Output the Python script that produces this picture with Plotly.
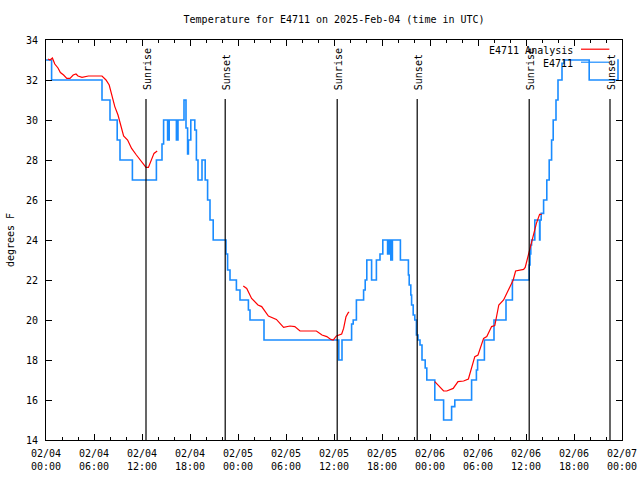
import plotly.graph_objects as go

# ---- data (hours since 2025-02-04 00:00 UTC) ----
obs_hours = [0.0, 0.7, 7.0, 8.0, 8.9, 9.25, 10.8, 13.8, 14.5, 14.7, 15.2, 15.4, 16.3, 16.5,
             17.25, 17.5, 17.7, 17.8, 18.1, 18.6, 18.8, 19.0, 19.5, 19.9, 20.2, 20.5, 20.9,
             22.5, 22.7, 23.0, 23.8, 24.25, 25.3, 25.5, 27.25, 36.6, 37.0, 38.2, 38.4, 38.8,
             39.7, 39.9, 40.1, 40.7, 41.3, 41.75, 42.1, 42.7, 42.9, 43.1, 43.3, 44.3, 45.3,
             45.4, 45.6, 45.7, 45.9, 46.1, 46.3, 46.5, 46.75, 47.0, 47.4, 47.6, 48.6, 49.7,
             50.7, 51.1, 53.2, 53.8, 53.95, 54.8, 56.0, 57.5, 58.3, 60.4, 60.5, 60.6, 60.7,
             61.1, 61.7, 61.75, 61.9, 62.2, 62.6, 62.9, 63.2, 63.4, 63.75, 64.0, 64.5, 64.75,
             67.9, 71.5, 71.6]
obs_temps = [33, 32, 31, 30, 29, 28, 27, 28, 28.8, 30, 29, 30, 29, 30,
             31, 29.6, 28.3, 29, 30, 29.5, 28, 27, 28, 27, 26, 25, 24,
             23.3, 22.5, 22, 21.5, 21, 20.5, 20, 19, 18, 19, 19.8, 20, 21,
             21.5, 22, 23, 22, 23, 23.3, 24, 23.3, 24, 23, 24, 23, 22.25,
             21.75, 21.25, 20.75, 20.25, 20, 19.25, 19, 18.75, 18, 17.6, 17, 16, 15,
             15.67, 16, 17, 17.5, 18, 19, 20, 21, 22, 22.75, 23.3, 23.75, 24,
             25, 24, 25, 25.33, 26, 27, 28, 29, 30, 31, 32, 32.83, 33,
             32, 33, 33]

ana_hours = [0.25, 0.5, 0.8, 1.1, 1.5, 1.8, 2.2, 2.6, 3.0, 3.4, 3.75, 4.0, 4.5, 5.3, 7.0,
             7.5, 7.9, 8.2, 8.6, 9.0, 9.3, 9.7, 10.2, 10.7, 11.3, 11.95, 12.5, 12.8, 13.2,
             13.5, 13.9, None,
             24.66, 25.09, 25.7, 26.5, 26.96, 27.4, 27.8, 28.8, 29.7, 30.5, 31.1, 31.75,
             33.8, 34.5, 35.1, 35.6, 35.9, 36.3, 36.75, 36.96, 37.2, 37.5, 37.8, 37.9, None,
             48.6, 49.0, 49.7, 50.1, 50.5, 50.9, 51.5, 52.2, 52.8, 53.1, 53.6, 54.0, 54.7,
             55.1, 55.7, 56.1, 56.6, 57.2, 57.8, 58.4, 58.7, 59.7, 59.9, 60.3, 60.6, 61.0,
             61.3, 61.7, 61.96]
ana_temps = [33.05, 33.0, 33.1, 32.8, 32.6, 32.37, 32.25, 32.08, 32.08, 32.25, 32.3, 32.2,
             32.13, 32.2, 32.2, 32.0, 31.75, 31.25, 30.67, 30.25, 29.83, 29.2, 29.0, 28.58,
             28.25, 27.9, 27.63, 27.63, 28.0, 28.33, 28.45, None,
             21.7, 21.58, 21.08, 20.75, 20.67, 20.4, 20.2, 20.03, 19.63, 19.7, 19.67, 19.45,
             19.45, 19.25, 19.17, 19.03, 19.0, 19.2, 19.28, 19.3, 19.58, 20.17, 20.38, 20.38,
             None,
             16.92, 16.75, 16.45, 16.45, 16.53, 16.58, 16.92, 16.95, 17.05, 17.5, 18.17, 18.25,
             19.08, 19.17, 19.67, 19.72, 20.75, 21.0, 21.5, 22.0, 22.45, 22.53, 22.63, 23.25,
             23.75, 24.25, 24.83, 25.28, 25.28]

sun_hours = [12.5, 22.4, 36.4, 46.4, 60.4, 70.5]
sun_labels = ["Sunrise", "Sunset", "Sunrise", "Sunset", "Sunrise", "Sunset"]

tick_hours = [0, 6, 12, 18, 24, 30, 36, 42, 48, 54, 60, 66, 72]
tick_labels = ["02/04<br>00:00", "02/04<br>06:00", "02/04<br>12:00", "02/04<br>18:00",
               "02/05<br>00:00", "02/05<br>06:00", "02/05<br>12:00", "02/05<br>18:00",
               "02/06<br>00:00", "02/06<br>06:00", "02/06<br>12:00", "02/06<br>18:00",
               "02/07<br>00:00"]

series_names = ["E4711 Analysis", "E4711"]
RED = "#ff0000"
BLUE = "#1a8cff"
FONT = "DejaVu Sans Mono"

fig = go.Figure()
fig.add_trace(go.Scatter(x=obs_hours, y=obs_temps, mode="lines", line_shape="hv",
                         line=dict(color=BLUE, width=1.6), name=series_names[1],
                         showlegend=False))
fig.add_trace(go.Scatter(x=ana_hours, y=ana_temps, mode="lines", connectgaps=False,
                         line=dict(color=RED, width=1.2), name=series_names[0],
                         showlegend=False))

shapes = []
annotations = []
for h, lab in zip(sun_hours, sun_labels):
    shapes.append(dict(type="line", xref="x", yref="paper", x0=h, x1=h, y0=0, y1=0.8525,
                       line=dict(color="black", width=1.2)))
    annotations.append(dict(x=h, y=0.87, xref="x", yref="paper", text=lab, showarrow=False,
                            textangle=-90, xanchor="center", yanchor="bottom", xshift=1,
                            font=dict(family=FONT, size=10, color="black")))

# legend (gnuplot style: text then sample)
leg_rows = [(series_names[0], RED, 0.975), (series_names[1], BLUE, 0.9425)]
for name, col, yp in leg_rows:
    annotations.append(dict(x=0.9184, y=yp, xref="paper", yref="paper", text=name,
                            showarrow=False, xanchor="right", yanchor="middle",
                            font=dict(family=FONT, size=10, color="black")))
    shapes.append(dict(type="line", xref="paper", yref="paper", x0=0.9288, x1=0.978,
                       y0=yp + 0.002, y1=yp + 0.002, line=dict(color=col, width=1.2)))

fig.update_layout(
    width=640, height=480, autosize=False,
    margin=dict(l=46, r=18, t=40, b=40),
    paper_bgcolor="white", plot_bgcolor="white",
    font=dict(family=FONT, size=10, color="black"),
    title=dict(text="Temperature for E4711 on 2025-Feb-04 (time in UTC)", x=0.522,
               xanchor="center", y=0.96, yanchor="middle",
               font=dict(family=FONT, size=10, color="black")),
    shapes=shapes, annotations=annotations, showlegend=False,
)
fig.update_xaxes(range=[0, 72], tickvals=tick_hours, ticktext=tick_labels,
                 ticks="inside", ticklen=6, tickcolor="black", tickwidth=1,
                 minor=dict(dtick=2, ticks="inside", ticklen=3, tickcolor="black"),
                 showline=True, linecolor="black", linewidth=1, mirror="ticks",
                 showgrid=False, zeroline=False, automargin=False, ticklabelstandoff=4,
                 tickfont=dict(family=FONT, size=10, color="black"))
fig.update_yaxes(range=[14, 34], dtick=2, tick0=14,
                 ticks="inside", ticklen=6, tickcolor="black", tickwidth=1,
                 showline=True, linecolor="black", linewidth=1, mirror="ticks",
                 showgrid=False, zeroline=False, automargin=False, ticklabelstandoff=5,
                 title=dict(text="degrees F", standoff=9,
                            font=dict(family=FONT, size=10, color="black")),
                 tickfont=dict(family=FONT, size=10, color="black"))

fig.write_html("out.html", config={"displayModeBar": False},
               post_script="document.body.style.margin='0';document.body.style.padding='0';")
